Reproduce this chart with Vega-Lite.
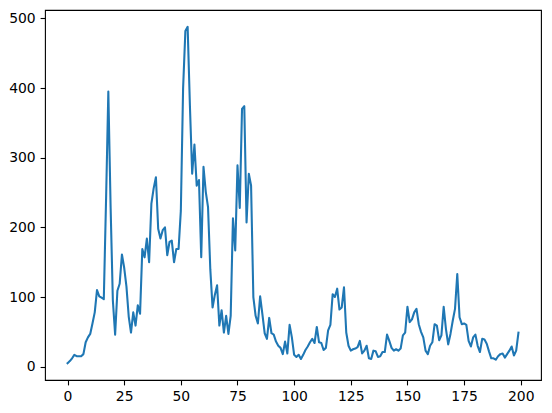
{
  "$schema": "https://vega.github.io/schema/vega-lite/v6.json",
  "width": 496,
  "height": 370,
  "autosize": {"type": "none"},
  "padding": {"left": 45, "top": 10, "right": 11, "bottom": 33},
  "background": "white",
  "config": {
    "view": {"stroke": "black", "strokeWidth": 1.1},
    "axis": {
      "domain": false,
      "grid": false,
      "tickColor": "black",
      "tickWidth": 1.1,
      "tickSize": 4.9,
      "labelFont": "DejaVu Sans",
      "labelFontSize": 13.9,
      "labelColor": "black",
      "labelPadding": 4.9,
      "title": null
    }
  },
  "data": {
    "values": [
      {"x":0,"y":5},{"x":1,"y":8},{"x":2,"y":12},{"x":3,"y":17},{"x":4,"y":15},{"x":5,"y":15},{"x":6,"y":15},{"x":7,"y":18},{"x":8,"y":35},{"x":9,"y":42},
      {"x":10,"y":47},{"x":11,"y":62},{"x":12,"y":78},{"x":13,"y":110},{"x":14,"y":101},{"x":15,"y":99},{"x":16,"y":97},{"x":17,"y":240},{"x":18,"y":395},{"x":19,"y":230},
      {"x":20,"y":95},{"x":21,"y":46},{"x":22,"y":109},{"x":23,"y":119},{"x":24,"y":161},{"x":25,"y":142},{"x":26,"y":115},{"x":27,"y":72},{"x":28,"y":49},{"x":29,"y":78},
      {"x":30,"y":59},{"x":31,"y":88},{"x":32,"y":76},{"x":33,"y":169},{"x":34,"y":157},{"x":35,"y":184},{"x":36,"y":150},{"x":37,"y":234},{"x":38,"y":256},{"x":39,"y":272},
      {"x":40,"y":198},{"x":41,"y":184},{"x":42,"y":196},{"x":43,"y":200},{"x":44,"y":160},{"x":45,"y":179},{"x":46,"y":181},{"x":47,"y":150},{"x":48,"y":169},{"x":49,"y":169},
      {"x":50,"y":224},{"x":51,"y":400},{"x":52,"y":482},{"x":53,"y":488},{"x":54,"y":375},{"x":55,"y":277},{"x":56,"y":319},{"x":57,"y":260},{"x":58,"y":268},{"x":59,"y":157},
      {"x":60,"y":287},{"x":61,"y":251},{"x":62,"y":229},{"x":63,"y":140},{"x":64,"y":85},{"x":65,"y":103},{"x":66,"y":117},{"x":67,"y":59},{"x":68,"y":81},{"x":69,"y":49},
      {"x":70,"y":73},{"x":71,"y":47},{"x":72,"y":73},{"x":73,"y":213},{"x":74,"y":167},{"x":75,"y":289},{"x":76,"y":228},{"x":77,"y":370},{"x":78,"y":374},{"x":79,"y":207},
      {"x":80,"y":277},{"x":81,"y":260},{"x":82,"y":100},{"x":83,"y":73},{"x":84,"y":62},{"x":85,"y":101},{"x":86,"y":75},{"x":87,"y":48},{"x":88,"y":40},{"x":89,"y":70},
      {"x":90,"y":48},{"x":91,"y":46},{"x":92,"y":36},{"x":93,"y":30},{"x":94,"y":27},{"x":95,"y":18},{"x":96,"y":36},{"x":97,"y":19},{"x":98,"y":60},{"x":99,"y":42},
      {"x":100,"y":17},{"x":101,"y":14},{"x":102,"y":17},{"x":103,"y":11},{"x":104,"y":17},{"x":105,"y":24},{"x":106,"y":29},{"x":107,"y":35},{"x":108,"y":40},{"x":109,"y":34},
      {"x":110,"y":57},{"x":111,"y":35},{"x":112,"y":34},{"x":113,"y":24},{"x":114,"y":27},{"x":115,"y":52},{"x":116,"y":60},{"x":117,"y":104},{"x":118,"y":100},{"x":119,"y":112},
      {"x":120,"y":82},{"x":121,"y":85},{"x":122,"y":114},{"x":123,"y":49},{"x":124,"y":30},{"x":125,"y":23},{"x":126,"y":25},{"x":127,"y":26},{"x":128,"y":28},{"x":129,"y":37},
      {"x":130,"y":19},{"x":131,"y":23},{"x":132,"y":30},{"x":133,"y":12},{"x":134,"y":11},{"x":135,"y":23},{"x":136,"y":22},{"x":137,"y":14},{"x":138,"y":15},{"x":139,"y":21},
      {"x":140,"y":21},{"x":141,"y":46},{"x":142,"y":37},{"x":143,"y":27},{"x":144,"y":23},{"x":145,"y":25},{"x":146,"y":23},{"x":147,"y":26},{"x":148,"y":45},{"x":149,"y":49},
      {"x":150,"y":86},{"x":151,"y":64},{"x":152,"y":68},{"x":153,"y":78},{"x":154,"y":83},{"x":155,"y":61},{"x":156,"y":50},{"x":157,"y":42},{"x":158,"y":23},{"x":159,"y":18},
      {"x":160,"y":30},{"x":161,"y":35},{"x":162,"y":61},{"x":163,"y":59},{"x":164,"y":38},{"x":165,"y":45},{"x":166,"y":86},{"x":167,"y":54},{"x":168,"y":32},{"x":169,"y":47},
      {"x":170,"y":66},{"x":171,"y":83},{"x":172,"y":133},{"x":173,"y":71},{"x":174,"y":61},{"x":175,"y":62},{"x":176,"y":60},{"x":177,"y":37},{"x":178,"y":29},{"x":179,"y":42},
      {"x":180,"y":46},{"x":181,"y":30},{"x":182,"y":21},{"x":183,"y":40},{"x":184,"y":39},{"x":185,"y":33},{"x":186,"y":22},{"x":187,"y":12},{"x":188,"y":12},{"x":189,"y":10},
      {"x":190,"y":15},{"x":191,"y":18},{"x":192,"y":19},{"x":193,"y":13},{"x":194,"y":18},{"x":195,"y":23},{"x":196,"y":29},{"x":197,"y":16},{"x":198,"y":23},{"x":199,"y":49}
    ]
  },
  "mark": {"type": "line", "color": "#1f77b4", "strokeWidth": 2.08, "strokeJoin": "round", "strokeCap": "square", "clip": true},
  "encoding": {
    "x": {
      "field": "x",
      "type": "quantitative",
      "scale": {"domain": [-9.95, 208.95], "nice": false, "zero": false},
      "axis": {"values": [0, 25, 50, 75, 100, 125, 150, 175, 200], "labelFlush": false}
    },
    "y": {
      "field": "y",
      "type": "quantitative",
      "scale": {"domain": [-19.15, 512.15], "nice": false, "zero": false},
      "axis": {"values": [0, 100, 200, 300, 400, 500]}
    }
  }
}
